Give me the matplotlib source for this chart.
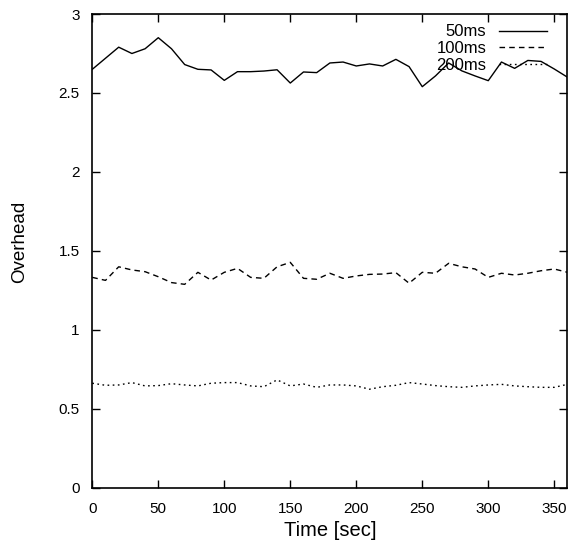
import matplotlib.pyplot as plt

time_sec = list(range(0, 361, 10))

overhead_50ms = [2.65, 2.72, 2.79, 2.75, 2.78, 2.85, 2.78, 2.68, 2.65, 2.646,
                 2.58, 2.635, 2.635, 2.639, 2.647, 2.563, 2.633, 2.629, 2.69,
                 2.696, 2.671, 2.684, 2.671, 2.713, 2.667, 2.54, 2.608, 2.69,
                 2.64, 2.608, 2.578, 2.696, 2.656, 2.706, 2.70, 2.652, 2.60]

overhead_100ms = [1.333, 1.314, 1.40, 1.38, 1.369, 1.337, 1.30, 1.289, 1.365, 1.316,
                  1.365, 1.39, 1.333, 1.327, 1.40, 1.428, 1.327, 1.321, 1.359,
                  1.327, 1.342, 1.352, 1.354, 1.363, 1.296, 1.365, 1.359, 1.422,
                  1.40, 1.386, 1.333, 1.359, 1.348, 1.359, 1.375, 1.386, 1.365]

overhead_200ms = [0.663, 0.65, 0.652, 0.667, 0.646, 0.648, 0.66, 0.652, 0.646, 0.663,
                  0.667, 0.667, 0.646, 0.641, 0.684, 0.646, 0.658, 0.637, 0.652,
                  0.652, 0.646, 0.625, 0.641, 0.65, 0.667, 0.658, 0.648, 0.641,
                  0.637, 0.646, 0.652, 0.656, 0.646, 0.641, 0.637, 0.637, 0.656]

plt.rcParams['font.family'] = ['Liberation Sans', 'DejaVu Sans']

fig = plt.figure(figsize=(5.82, 5.47), dpi=100)
ax = fig.add_axes([0.1586, 0.1079, 0.8164, 0.8665])

ax.plot(time_sec, overhead_50ms, color='black', lw=1.0, ls='-', label='50ms')
ax.plot(time_sec, overhead_100ms, color='black', lw=1.0, ls=(0, (4, 3)), label='100ms')
ax.plot(time_sec, overhead_200ms, color='black', lw=1.0, ls=(0, (1.2, 2.5)), label='200ms')

ax.set_xlim(0, 360)
ax.set_ylim(0, 3)
ax.set_xticks(range(0, 351, 50))
ax.set_yticks([0, 0.5, 1, 1.5, 2, 2.5, 3])
ax.set_yticklabels(['0', '0.5', '1', '1.5', '2', '2.5', '3'])
ax.tick_params(direction='in', top=True, right=True, length=6, width=1,
               labelsize=11)
ax.tick_params(axis='x', pad=10)
ax.tick_params(axis='y', pad=9)
for s in ax.spines.values():
    s.set_linewidth(1.2)

ax.set_xlabel('Time [sec]', fontsize=14.5, labelpad=4)
ax.set_ylabel('Overhead', fontsize=13.5)
ax.yaxis.set_label_coords(-0.135, 0.52)

ax.legend(loc='upper right', frameon=False, markerfirst=False, fontsize=12,
          handlelength=2.9, labelspacing=0.1, borderaxespad=0, borderpad=0,
          handletextpad=0.75, bbox_to_anchor=(0.957, 0.978))

fig.savefig('out.png', dpi=100)
